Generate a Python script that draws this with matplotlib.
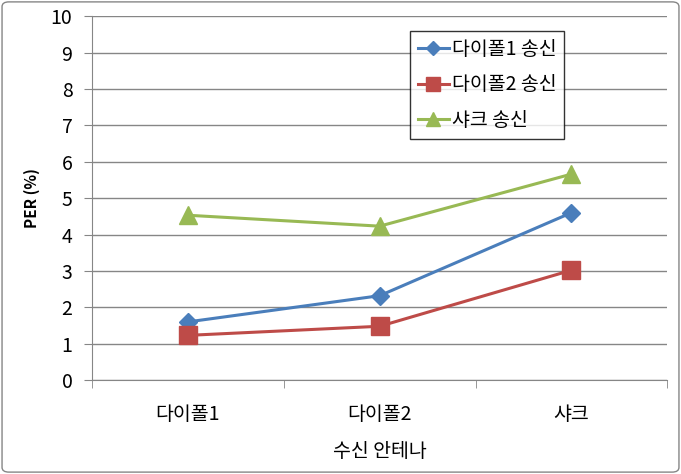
import matplotlib
matplotlib.use("Agg")
from matplotlib import pyplot as plt
from matplotlib.patches import FancyBboxPatch
import numpy as np

plt.rcParams['font.family'] = ['Noto Sans CJK KR', 'DejaVu Sans']

categories = ['다이폴1', '다이폴2', '샤크']
dipole1_tx = [1.6, 2.32, 4.6]
dipole2_tx = [1.23, 1.48, 3.02]
shark_tx = [4.53, 4.23, 5.66]
series_names = ['다이폴1 송신', '다이폴2 송신', '샤크 송신']

fig = plt.figure(figsize=(6.81, 4.74), dpi=100)
ax = fig.add_axes([0.135, 0.198, 0.845, 0.768])

x = np.arange(len(categories))
ax.plot(x, dipole1_tx, color='#4A7EBB', lw=2.2, marker='D', ms=9, label=series_names[0])
ax.plot(x, dipole2_tx, color='#BE4B48', lw=2.2, marker='s', ms=13, label=series_names[1])
ax.plot(x, shark_tx, color='#98B954', lw=2.2, marker='^', ms=13, label=series_names[2])

ax.set_xlim(-0.5, 2.5)
ax.set_ylim(0, 10)
ax.set_yticks(range(0, 11))
ax.yaxis.grid(True, color='#868686', lw=1)
ax.set_axisbelow(True)
ax.set_xticks(x)
ax.set_xticklabels(categories, fontsize=14)
ax.set_xticks([-0.5, 0.5, 1.5, 2.5], minor=True)
ax.tick_params(axis='x', which='major', length=0, pad=17)
ax.tick_params(axis='x', which='minor', length=6, color='#868686')
ax.tick_params(axis='y', length=6, color='#868686', labelsize=14, pad=8)
for s in ['top', 'right']:
    ax.spines[s].set_visible(False)
for s in ['left', 'bottom']:
    ax.spines[s].set_color('#868686')

ax.set_ylabel('PER (%)', fontsize=11, fontweight='bold', labelpad=8)
ax.set_xlabel('수신 안테나', fontsize=14, labelpad=12)

leg = ax.legend(loc='upper left', bbox_to_anchor=(410 / 681, 1 - 31 / 474),
                bbox_transform=fig.transFigure, fontsize=14, frameon=True,
                fancybox=False, edgecolor='black', handlelength=1.6,
                borderpad=0.4, labelspacing=0.75, handletextpad=0.15,
                borderaxespad=0, markerscale=0.75)
leg.get_frame().set_linewidth(1)

border = FancyBboxPatch((0.003, 0.004), 0.994, 0.992, boxstyle='round,pad=0,rounding_size=0.01',
                        transform=fig.transFigure, fill=False, edgecolor='#868686', lw=1)
fig.patches.append(border)

fig.savefig('out.png', dpi=100)
